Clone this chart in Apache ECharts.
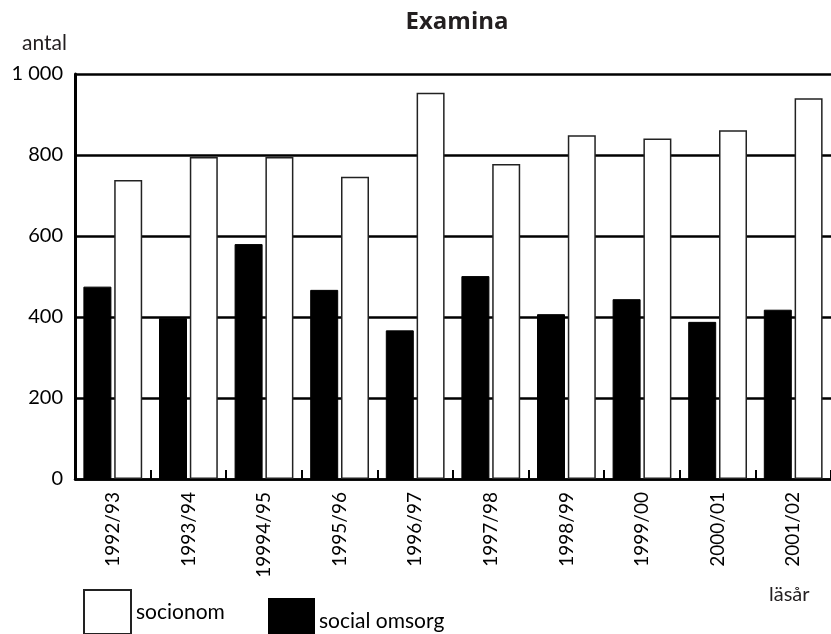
<!DOCTYPE html>
<html lang="sv">
<head>
    <meta charset="UTF-8">
    <title>Examina</title>
    <script src="https://cdn.jsdelivr.net/npm/echarts@6/dist/echarts.min.js"></script>
    <style>
        *{
            padding:0;
            margin:0;
        }
        html,body{
            width:831px;
            height:634px;
            background:#fff;
        }
        #main{
            width:831px;
            height:634px;
        }
    </style>
</head>
<body>
<div id="main"></div>
<script>
    // läsår
    var years = ['1992/93','1993/94','19994/95','1995/96','1996/97','1997/98','1998/99','1999/00','2000/01','2001/02'];
    var socialOmsorg = [475, 397, 580, 467, 367, 501, 407, 444, 388, 418];
    var socionom = [738, 795, 795, 746, 954, 778, 849, 841, 861, 940];

    var font = 'Lato, "Open Sans", sans-serif';
    var txt = '#231f20';

    var myChart = echarts.init(document.getElementById('main'));
    var option = {
        animation: false,
        backgroundColor: '#fff',
        title: [
            {
                text: 'Examina',
                left: 452,
                top: 5,
                textAlign: 'center',
                textStyle: {fontFamily: '"Open Sans", sans-serif', fontSize: 24, fontWeight: 'bold', color: txt}
            },
            {
                text: 'läsår',
                left: 764,
                top: 580,
                textStyle: {fontFamily: font, fontSize: 20, fontWeight: 'normal', color: txt}
            }
        ],
        legend: [
            {
                data: ['socionom'],
                icon: 'rect',
                left: 78,
                top: 584,
                itemWidth: 47,
                itemHeight: 44,
                itemGap: 4,
                textStyle: {fontFamily: font, fontSize: 21, color: '#000'}
            },
            {
                data: ['social omsorg'],
                icon: 'rect',
                left: 263,
                top: 593,
                itemWidth: 45,
                itemHeight: 44,
                textStyle: {fontFamily: font, fontSize: 21, color: '#000', padding: [14, 0, 0, 0]}
            }
        ],
        grid: {
            left: 75,
            right: -4,
            top: 74,
            bottom: 155,
            containLabel: false
        },
        xAxis: {
            type: 'category',
            data: years,
            axisLine: {lineStyle: {color: '#000', width: 2.5}},
            axisTick: {show: true, inside: true, length: 9, lineStyle: {color: '#000', width: 2}},
            axisLabel: {
                rotate: 90,
                margin: 13,
                fontFamily: font,
                fontSize: 19,
                color: '#000'
            }
        },
        yAxis: {
            type: 'value',
            min: 0,
            max: 1000,
            interval: 200,
            name: 'antal',
            nameGap: 20,
            nameTextStyle: {fontFamily: font, fontSize: 21, color: txt, align: 'right', padding: [0, 8, 0, 0]},
            axisLine: {show: true, lineStyle: {color: '#000', width: 3}},
            axisTick: {show: false},
            axisLabel: {
                margin: 12,
                fontFamily: font,
                fontSize: 20,
                color: '#000',
                formatter: function (v) {
                    return v === 1000 ? '1 000' : String(v);
                }
            },
            splitLine: {show: true, lineStyle: {color: '#000', width: 2.5}}
        },
        series: [
            {
                name: 'social omsorg',
                type: 'bar',
                data: socialOmsorg,
                barWidth: 28,
                barGap: '10%',
                itemStyle: {color: '#000', borderColor: '#000', borderWidth: 1}
            },
            {
                name: 'socionom',
                type: 'bar',
                data: socionom,
                barWidth: 28,
                itemStyle: {color: '#fff', borderColor: '#222', borderWidth: 1.5}
            }
        ]
    };
    myChart.setOption(option);
</script>
</body>
</html>
